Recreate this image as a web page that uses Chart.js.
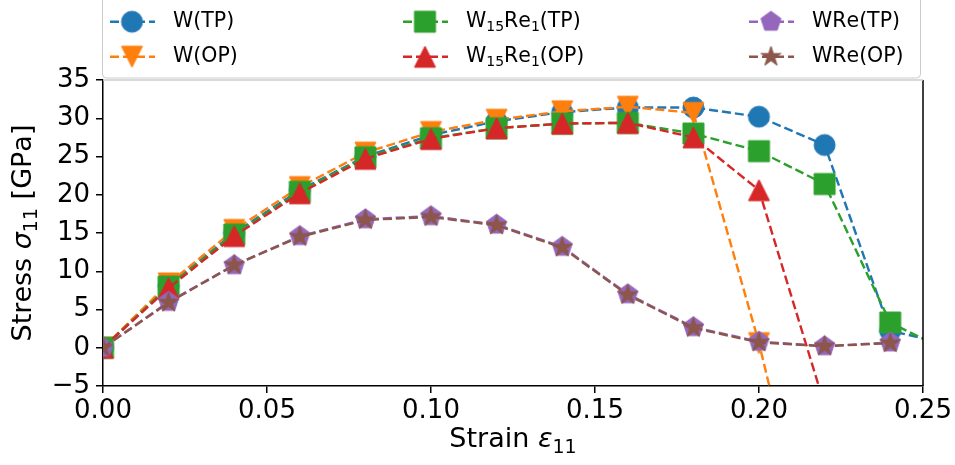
<!DOCTYPE html>
<html>
<head>
<meta charset="utf-8">
<script src="https://cdn.jsdelivr.net/npm/chart.js@4.4.1/dist/chart.umd.min.js"></script>
<style>
  html, body { margin: 0; padding: 0; background: #fff; }
  #wrap { width: 955px; height: 465px; }
</style>
</head>
<body>
<div id="wrap"><canvas id="chart" width="955" height="465"></canvas></div>
<script>
"use strict";

// strain values (x)
const strain = [0, 0.02, 0.04, 0.06, 0.08, 0.10, 0.12, 0.14, 0.16, 0.18, 0.20, 0.22, 0.24, 0.26];

// stress values (GPa)
const wTP   = [0, 8.1, 15.0, 20.6, 25.0, 27.8, 29.6, 30.8, 31.4, 31.4, 30.2, 26.5, 2.2, 0.3];
const wOP   = [0, 8.4, 15.4, 21.0, 25.5, 28.2, 29.8, 30.9, 31.5, 30.7, 0.6, -35];
const w15TP = [0, 8.0, 14.8, 20.4, 24.9, 27.4, 28.7, 29.3, 29.4, 28.0, 25.7, 21.4, 3.3, -1.0];
const w15OP = [0, 7.8, 14.6, 20.2, 24.7, 27.3, 28.7, 29.3, 29.4, 27.5, 20.6, -7.5];
const wreTP = [0, 6.0, 10.8, 14.6, 16.8, 17.2, 16.1, 13.2, 7.0, 2.7, 0.8, 0.2, 0.7];
const wreOP = [0, 5.9, 10.8, 14.5, 16.7, 17.1, 16.0, 13.1, 6.9, 2.6, 0.7, 0.2, 0.6];

const labels = ['W(TP)', 'W(OP)', 'W\u2081\u2085Re\u2081(TP)', 'W\u2081\u2085Re\u2081(OP)', 'WRe(TP)', 'WRe(OP)'];
const colors = ['#1f77b4', '#ff7f0e', '#2ca02c', '#d62728', '#9467bd', '#8c564b'];
const shapes = ['circle', 'tridown', 'square', 'triup', 'pentagon', 'star'];
const series = [wTP, wOP, w15TP, w15OP, wreTP, wreOP];

const yTicks = [-5, 0, 5, 10, 15, 20, 25, 30, 35];
const xTicks = [0, 0.05, 0.10, 0.15, 0.20, 0.25];

const xTitle = 'Strain \u03b5\u2081\u2081';
const yTitle = 'Stress \u03c3\u2081\u2081 [GPa]';

const FONT = "'DejaVu Sans', sans-serif";
const LINE_W = 2.4;
const DASH = [9, 4];

// matplotlib-like marker drawn into a small canvas
function makeMarker(shape, color) {
  const ms = 21;
  const size = ms + 4;
  const c = document.createElement('canvas');
  c.width = size;
  c.height = size;
  const g = c.getContext('2d');
  const cx = size / 2, cy = size / 2, r = ms / 2;
  g.beginPath();
  if (shape === 'circle') {
    g.arc(cx, cy, r, 0, Math.PI * 2);
  } else if (shape === 'square') {
    g.rect(cx - r, cy - r, ms, ms);
  } else if (shape === 'triup') {
    g.moveTo(cx, cy - r);
    g.lineTo(cx + r, cy + r);
    g.lineTo(cx - r, cy + r);
  } else if (shape === 'tridown') {
    g.moveTo(cx, cy + r);
    g.lineTo(cx + r, cy - r);
    g.lineTo(cx - r, cy - r);
  } else if (shape === 'pentagon' || shape === 'star') {
    const n = shape === 'star' ? 10 : 5;
    for (let i = 0; i < n; i++) {
      const a = -Math.PI / 2 + i * 2 * Math.PI / n;
      const rr = (shape === 'star' && i % 2) ? r * 0.381966 : r;
      const px = cx + rr * Math.cos(a), py = cy + rr * Math.sin(a);
      if (i === 0) g.moveTo(px, py); else g.lineTo(px, py);
    }
  }
  g.closePath();
  g.fillStyle = color;
  g.fill();
  g.lineWidth = 1;
  g.strokeStyle = color;
  g.stroke();
  return c;
}

const markers = shapes.map((s, i) => makeMarker(s, colors[i]));

const datasets = series.map((vals, i) => ({
  label: labels[i],
  data: vals.map((v, j) => ({ x: strain[j], y: v })),
  borderColor: colors[i],
  backgroundColor: colors[i],
  borderWidth: LINE_W,
  borderDash: DASH,
  pointStyle: markers[i],
  pointRadius: 11,
  pointHoverRadius: 11,
  tension: 0,
  order: series.length - 1 - i,
}));

// text with unicode subscript digits drawn matplotlib-style (mathtext look)
const SUB = '\u2080\u2081\u2082\u2083\u2084\u2085\u2086\u2087\u2088\u2089';
const GREEK = '\u03b5\u03c3';
function drawRich(ctx, text, x, y, size, measureOnly) {
  const x0 = x;
  ctx.textBaseline = 'middle';
  ctx.textAlign = 'left';
  for (const ch of text) {
    const k = SUB.indexOf(ch);
    let s = ch, dy = 0;
    if (k >= 0) {
      s = String(k);
      ctx.font = `${Math.round(size * 0.7)}px ${FONT}`;
      dy = size * 0.3;
    } else if (GREEK.includes(ch)) {
      ctx.font = `italic ${size}px ${FONT}`;
    } else {
      ctx.font = `${size}px ${FONT}`;
    }
    if (!measureOnly) ctx.fillText(s, x, y + dy);
    x += ctx.measureText(s).width;
  }
  return x - x0;
}

const frame = {
  id: 'frame',
  afterDatasetsDraw(chart) {
    const { ctx, chartArea: a } = chart;
    ctx.save();
    ctx.lineWidth = 1.5;
    ctx.strokeStyle = '#000';
    ctx.beginPath();
    ctx.moveTo(a.right, a.top);
    ctx.lineTo(a.right, a.bottom);
    ctx.stroke();
    ctx.strokeStyle = '#cccccc';
    ctx.beginPath();
    ctx.moveTo(a.left, a.top);
    ctx.lineTo(a.right, a.top);
    ctx.stroke();
    ctx.restore();
  },
  afterDraw(chart) {
    const { ctx, chartArea: a } = chart;
    ctx.save();
    ctx.fillStyle = '#000';

    // axis titles
    const tSize = 27;
    let w = drawRich(ctx, xTitle, 0, 0, tSize, true);
    drawRich(ctx, xTitle, (a.left + a.right) / 2 - w / 2, 440, tSize);
    w = drawRich(ctx, yTitle, 0, 0, tSize, true);
    ctx.save();
    ctx.translate(24, (a.top + a.bottom) / 2);
    ctx.rotate(-Math.PI / 2);
    drawRich(ctx, yTitle, -w / 2, 0, tSize);
    ctx.restore();

    // legend box
    ctx.beginPath();
    ctx.roundRect(102.5, -6, 818, 84, 4);
    ctx.fillStyle = '#fff';
    ctx.fill();
    ctx.lineWidth = 1;
    ctx.strokeStyle = '#cccccc';
    ctx.stroke();

    const colX = [110, 403, 749];
    const rowY = [21.7, 56.7];
    chart.data.datasets.forEach((ds, i) => {
      const x0 = colX[Math.floor(i / 2)];
      const y0 = rowY[i % 2];
      ctx.strokeStyle = ds.borderColor;
      ctx.lineWidth = LINE_W;
      ctx.setLineDash(DASH);
      ctx.beginPath();
      ctx.moveTo(x0, y0);
      ctx.lineTo(x0 + 45, y0);
      ctx.stroke();
      ctx.setLineDash([]);
      const m = ds.pointStyle;
      ctx.drawImage(m, x0 + 22 - m.width / 2, y0 - m.height / 2);
      ctx.fillStyle = '#000';
      drawRich(ctx, ds.label, x0 + 63, y0, 20.5);
    });
    ctx.restore();
  }
};

new Chart(document.getElementById('chart'), {
  type: 'line',
  data: { datasets },
  plugins: [frame],
  options: {
    responsive: false,
    animation: false,
    events: [],
    layout: { padding: { top: 80, right: 32, left: 0, bottom: 0 } },
    plugins: { legend: { display: false }, tooltip: { enabled: false } },
    scales: {
      x: {
        type: 'linear',
        min: 0,
        max: 0.25,
        afterFit: s => { s.height = 79; },
        afterBuildTicks: s => { s.ticks = xTicks.map(v => ({ value: v })); },
        ticks: {
          callback: v => v.toFixed(2),
          color: '#000',
          font: { family: FONT, size: 26 },
          padding: 3,
          maxRotation: 0,
          autoSkip: false,
        },
        grid: { drawOnChartArea: false, drawTicks: true, tickLength: 7, color: '#000', lineWidth: 1.5 },
        border: { color: '#000', width: 1.5 },
      },
      y: {
        type: 'linear',
        min: -5,
        max: 35,
        afterFit: s => { s.width = 103; },
        afterBuildTicks: s => { s.ticks = yTicks.map(v => ({ value: v })); },
        ticks: {
          callback: v => v < 0 ? '\u2212' + Math.abs(v) : String(v),
          color: '#000',
          font: { family: FONT, size: 26 },
          padding: 6,
          autoSkip: false,
        },
        grid: { drawOnChartArea: false, drawTicks: true, tickLength: 7, color: '#000', lineWidth: 1.5 },
        border: { color: '#000', width: 1.5 },
      },
    },
  },
});
</script>
</body>
</html>
